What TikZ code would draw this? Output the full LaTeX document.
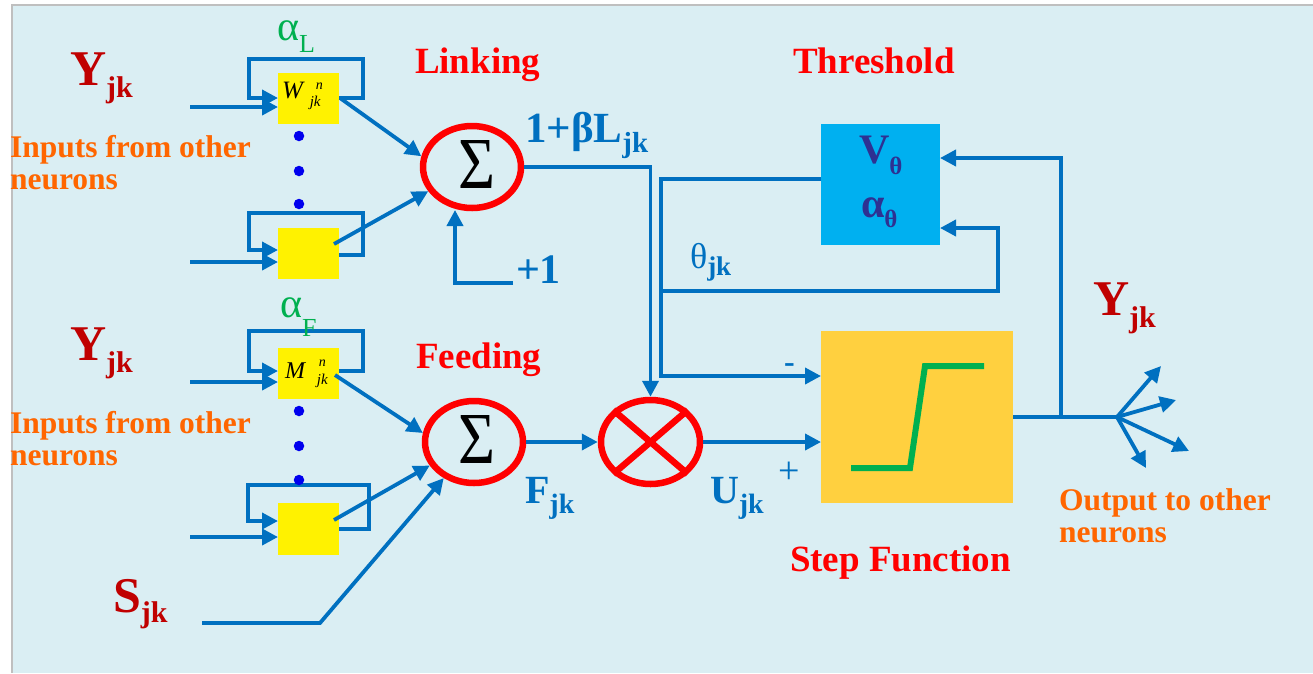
\documentclass[tikz,border=0pt]{standalone}
\usepackage{fontspec}
\usepackage{graphicx}
\setmainfont{Liberation Serif}
\usetikzlibrary{arrows.meta,shapes.geometric,fit}
\definecolor{bgc}{HTML}{DAEEF3}
\definecolor{framec}{HTML}{BFBFBF}
\definecolor{lineblue}{HTML}{0070C0}
\definecolor{darkred}{HTML}{C00000}
\definecolor{orangetxt}{HTML}{FF6600}
\definecolor{greenc}{HTML}{00B050}
\definecolor{threshblue}{HTML}{00B0F0}
\definecolor{stepyellow}{HTML}{FFD03F}
\definecolor{vtext}{HTML}{2E3192}
\definecolor{dotblue}{HTML}{0000EE}
\newcommand{\fsz}[1]{\fontsize{#1}{#1}\selectfont}
\newcommand{\subl}[5]{{\fsz{#1}#2}{\fsz{#3}\raisebox{-#5pt}{#4}}}
\begin{document}
\begin{tikzpicture}[x=1pt,y=-1pt,
  conn/.style={draw=lineblue, line width=3.8pt},
  arr/.style={conn, -{Triangle[length=16pt,width=16pt]}},
  ybox/.style={fill=yellow, inner sep=0pt, outer sep=0pt},
  ring/.style={ellipse, draw=red, line width=6.5pt, inner sep=0pt, minimum width=98pt, minimum height=82pt},
  lab/.style={anchor=base west, inner sep=0pt, outer sep=0pt},
  dot/.style={circle, fill=dotblue, inner sep=0pt, minimum size=10.5pt},
]
\useasboundingbox (0,0) rectangle (1313,673);
\fill[bgc] (12,5) rectangle (1313,673);
\draw[framec, line width=1.5pt] (12,673) -- (12,5) -- (1313,5);

% boxes
\node[ybox, fit={(278,73) (339,124)}] (w1) {};
\node[ybox, fit={(278,228) (339,279)}] (w2) {};
\node[ybox, fit={(278,348) (339,399)}] (m1) {};
\node[ybox, fit={(278,503) (339,555)}] (m2) {};
\node[fill=threshblue, inner sep=0pt, outer sep=0pt, fit={(821,124) (940,245)}] (thr) {};
\node[fill=stepyellow, inner sep=0pt, outer sep=0pt, fit={(821,331) (1013,503)}] (stp) {};

% rings
\node[ring] (s1) at (472,167) {};
\node[ring] (s2) at (474,442) {};
\node[ring, minimum width=99pt, minimum height=84pt] (mul) at (650.5,442) {};
\draw[red, line width=6.5pt] (mul.north west) -- (mul.south east) (mul.north east) -- (mul.south west);
\node[inner sep=0pt] (sig1) at (476.5,164) {\resizebox{37pt}{48pt}{\fsz{60}Σ}};
\node[inner sep=0pt] (sig2) at (476.5,439) {\resizebox{37pt}{48pt}{\fsz{60}Σ}};

% step curve
\draw[greenc, line width=6pt] (851,468) -- (910,468) -- (925,366) -- (984,366);

% linking inputs
\draw[arr] (339,98) -| (363,59) -| (249,98) -- (278,98);
\draw[arr] (190,107) -- (278,107);
\draw[arr] (339,255) -| (363,213) -| (249,250) -- (278,250);
\draw[arr] (190,262) -- (278,262);
\draw[arr] (340,98) -- (s1.168);
\draw[arr] (334,244) -- (s1.209);
\draw[arr] (513,283) -- (455,283) -- (455,210);

% feeding inputs
\draw[arr] (339,371) -| (363,331) -| (249,371) -- (278,371);
\draw[arr] (190,382) -- (278,382);
\draw[arr] (339,529) -| (369,485) -| (248,521) -- (278,521);
\draw[arr] (190,537) -- (278,537);
\draw[arr] (335,375) -- (s2.170);
\draw[arr] (334,520) -- (s2.208);
\draw[arr] (202,623) -- (320,623) -- (s2.230);

% dots
\node[dot] (d1) at (299,136) {};
\node[dot] (d2) at (299,171) {};
\node[dot] (d3) at (299,204) {};
\node[dot] (d4) at (299,411) {};
\node[dot] (d5) at (299,446) {};
\node[dot] (d6) at (299,480) {};

% middle connections
\draw[arr] (s1.east) -| (mul.north);
\draw[arr] (s2.east) -- (mul.west);
\draw[arr] (mul.east) -- (stp.west |- mul.east);
\draw[arr] (821,179) -| (661,376) -- (821,376);
\draw[arr] (661,291) -| (998,228) -- (940,228);
\draw[conn] (stp.east) -- (1117,417);
\draw[arr] (1061,417) |- (940,158);
\coordinate (hub) at (1117,417);
\draw[arr] (hub) -- (1161,366);
\draw[arr] (hub) -- (1176,400);
\draw[arr] (hub) -- (1189,451);
\draw[arr] (hub) -- (1146,468);

% labels
\node[lab, text=darkred, font=\bfseries] (y1) at (70,85) {\subl{50}{Y}{30}{jk}{12}};
\node[lab, text=orangetxt, font=\bfseries\fsz{31.5}] (in1a) at (10,157) {Inputs from other};
\node[lab, text=orangetxt, font=\bfseries\fsz{31.5}] (in1b) at (10,189) {neurons};
\node[lab, text=darkred, font=\bfseries] (y2) at (70,360) {\subl{50}{Y}{30}{jk}{12}};
\node[lab, text=orangetxt, font=\bfseries\fsz{31.5}] (in2a) at (10,433) {Inputs from other};
\node[lab, text=orangetxt, font=\bfseries\fsz{31.5}] (in2b) at (10,465) {neurons};
\node[lab, text=darkred, font=\bfseries] (sjk) at (113,612) {\subl{50}{S}{30}{jk}{10}};
\node[lab, text=greenc] (al) at (277,40) {\subl{42}{α}{26}{L}{12}};
\node[lab, text=greenc] (af) at (280,317) {\subl{42}{α}{26}{F}{19}};
\node[lab, font=\itshape] (wt) at (282,98) {{\fsz{25}W}\hspace{7pt}\raisebox{-8pt}{\fsz{15}\rlap{\hspace{6pt}\raisebox{17pt}{\fsz{14}n}}jk}};
\node[lab, font=\itshape] (mt) at (285,378) {{\fsz{24}M}\hspace{12pt}\raisebox{-6pt}{\fsz{15}\rlap{\hspace{2pt}\raisebox{18pt}{\fsz{14}n}}jk}};
\node[lab, text=red, font=\bfseries\fsz{37}] (linking) at (415,73) {Linking};
\node[lab, text=red, font=\bfseries\fsz{37}] (feeding) at (416,368) {Feeding};
\node[lab, text=red, font=\bfseries\fsz{37}] (threshold) at (793,73) {Threshold};
\node[lab, text=red, font=\bfseries\fsz{37}] (stepfn) at (790,571) {Step Function};
\node[lab, text=lineblue, font=\bfseries] (lbl1) at (525,142) {\subl{43}{1+βL}{29}{jk}{10}};
\node[lab, text=lineblue, font=\bfseries\fsz{42}] (plus1) at (516,283) {+1};
\node[lab, text=lineblue, font=\bfseries] (fjk) at (525,503) {\subl{40}{F}{28}{jk}{10}};
\node[lab, text=lineblue, font=\bfseries] (ujk) at (710,503) {\subl{40}{U}{28}{jk}{10}};
\node[lab, text=lineblue] (theta) at (690,268) {{\fsz{36}θ}{\bfseries\fsz{27}\raisebox{-7pt}{jk}}};
\node[lab, text=vtext, font=\bfseries] (vth) at (859,163) {\subl{42}{V}{25}{θ}{11}};
\node[lab, text=vtext, font=\bfseries] (ath) at (861,217) {\subl{42}{α}{25}{θ}{10}};
\node[lab, text=lineblue, font=\bfseries\fsz{32}] (minus) at (784,372) {-};
\node[lab, text=lineblue, font=\fsz{38}] (plus) at (778,483) {+};
\node[lab, text=darkred, font=\bfseries] (y3) at (1093,315) {\subl{50}{Y}{30}{jk}{12}};
\node[lab, text=orangetxt, font=\bfseries\fsz{31.5}] (out1) at (1059,510) {Output to other};
\node[lab, text=orangetxt, font=\bfseries\fsz{31.5}] (out2) at (1059,542) {neurons};
\end{tikzpicture}
\end{document}
